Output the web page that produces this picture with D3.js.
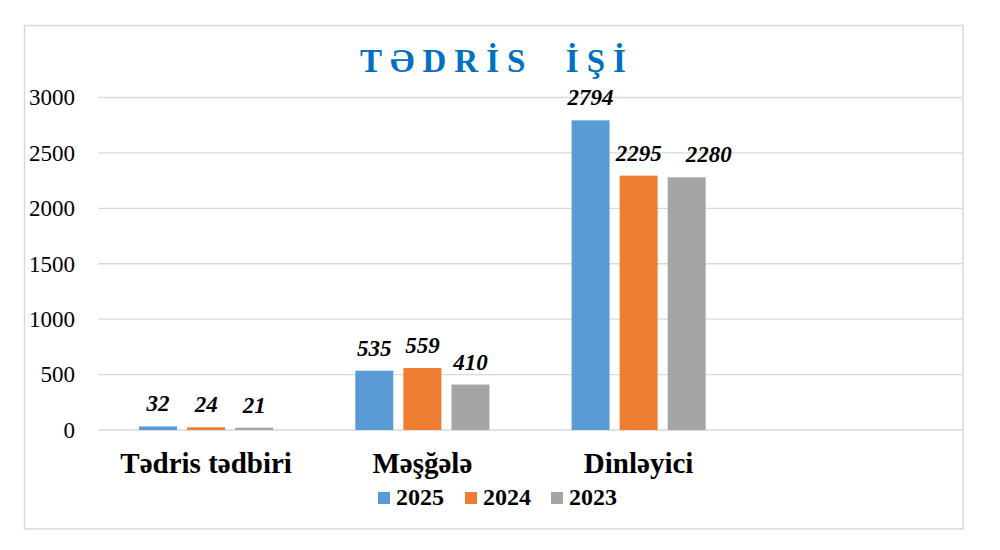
<!DOCTYPE html>
<html>
<head>
<meta charset="utf-8">
<script src="https://cdn.jsdelivr.net/npm/d3@7"></script>
<style>
  body { margin: 0; background: #fff; }
  text { font-family: "Liberation Serif", "Times New Roman", serif; }
</style>
</head>
<body>
<div id="chart"></div>
<script>
var categories = ["Tədris tədbiri", "Məşğələ", "Dinləyici", ""];
var seriesNames = ["2025", "2024", "2023"];
var values2025 = [32, 535, 2794];
var values2024 = [24, 559, 2295];
var values2023 = [21, 410, 2280];
var yTicks = [0, 500, 1000, 1500, 2000, 2500, 3000];
var colors = ["#5B9BD5", "#ED7D31", "#A5A5A5"];

var series = [values2025, values2024, values2023];

var width = 1000,
    height = 550;

var svg = d3.select("#chart").append("svg")
    .attr("width", width)
    .attr("height", height);

// outer frame
svg.append("rect")
    .attr("x", 24.5)
    .attr("y", 25.5)
    .attr("width", 938.5)
    .attr("height", 503.5)
    .attr("fill", "none")
    .attr("stroke", "#D9D9D9")
    .attr("stroke-width", 1.5);

var x0 = d3.scaleBand()
    .domain(categories)
    .range([98, 963])
    .paddingInner(0.38)
    .paddingOuter(0.19);

var x1 = d3.scaleBand()
    .domain(seriesNames)
    .range([0, x0.bandwidth()])
    .paddingInner(0.21);

var y = d3.scaleLinear()
    .domain([0, 3000])
    .range([430, 97.5]);

// gridlines
svg.append("g")
    .selectAll("line")
    .data(yTicks)
    .enter().append("line")
    .attr("x1", 98)
    .attr("x2", 962)
    .attr("y1", function(d) { return y(d); })
    .attr("y2", function(d) { return y(d); })
    .attr("stroke", "#D9D9D9")
    .attr("stroke-width", 1.3);

// y axis labels
var yAxis = d3.axisLeft(y).tickValues(yTicks).tickFormat(d3.format("d")).tickSize(0).tickPadding(0);
var yg = svg.append("g")
    .attr("transform", "translate(75,0)")
    .call(yAxis);
yg.select(".domain").remove();
yg.attr("font-family", null);
yg.selectAll("text")
    .attr("font-size", 23)
    .attr("fill", "#000");

// label nudge where the Excel label sat off-center to avoid overlap
function labelShift(si, ci) {
  return (si === 2 && ci === 2) ? 22 : 0;
}

// bars
var groups = svg.append("g")
    .selectAll("g")
    .data(seriesNames)
    .enter().append("g")
    .attr("fill", function(d, i) { return colors[i]; });

groups.each(function(name, si) {
  var g = d3.select(this);
  var vals = series[si];
  g.selectAll("rect")
      .data(vals)
      .enter().append("rect")
      .attr("x", function(d, i) { return x0(categories[i]) + x1(name); })
      .attr("y", function(d) { return y(d); })
      .attr("width", x1.bandwidth())
      .attr("height", function(d) { return y(0) - y(d); });

  g.selectAll("text")
      .data(vals)
      .enter().append("text")
      .attr("x", function(d, i) { return x0(categories[i]) + x1(name) + x1.bandwidth() / 2 + labelShift(si, i); })
      .attr("y", function(d) { return y(d) - 15; })
      .attr("text-anchor", "middle")
      .attr("font-size", 23)
      .attr("font-weight", "bold")
      .attr("font-style", "italic")
      .attr("fill", "#000")
      .text(function(d) { return d; });
});

// category labels
svg.append("g")
    .selectAll("text")
    .data(categories.filter(function(c) { return c !== ""; }))
    .enter().append("text")
    .attr("x", function(d) { return x0(d) + x0.bandwidth() / 2; })
    .attr("y", 473)
    .attr("text-anchor", "middle")
    .attr("font-size", 29)
    .attr("font-weight", "bold")
    .attr("fill", "#000")
    .text(function(d) { return d; });

// title
svg.append("text")
    .attr("x", 497)
    .attr("y", 72)
    .attr("text-anchor", "middle")
    .attr("font-size", 33)
    .attr("font-weight", "bold")
    .attr("fill", "#0070C0")
    .attr("letter-spacing", 8)
    .style("white-space", "pre")
    .text("TƏDRİS  İŞİ");

// legend
var legendX = [378, 465, 551];
var legend = svg.append("g")
    .selectAll("g")
    .data(seriesNames)
    .enter().append("g")
    .attr("transform", function(d, i) { return "translate(" + legendX[i] + ",0)"; });

legend.append("rect")
    .attr("x", 0)
    .attr("y", 492)
    .attr("width", 12)
    .attr("height", 12)
    .attr("fill", function(d, i) { return colors[i]; });

legend.append("text")
    .attr("x", 18)
    .attr("y", 505)
    .attr("font-size", 24)
    .attr("font-weight", "bold")
    .attr("fill", "#000")
    .text(function(d) { return d; });
</script>
</body>
</html>
